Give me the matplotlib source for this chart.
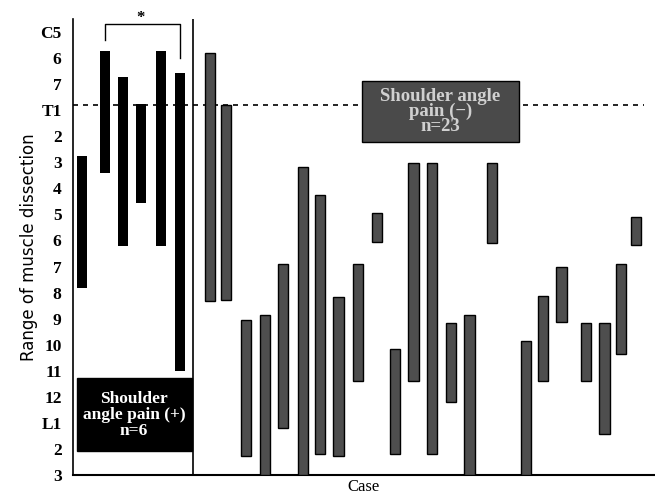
import matplotlib
matplotlib.use("Agg")
import matplotlib.pyplot as plt

# vertebral levels, top (C5) to bottom (L3)
levels = ["C5", "6", "7", "T1", "2", "3", "4", "5", "6", "7", "8", "9",
          "10", "11", "12", "L1", "2", "3"]

# shoulder angle pain (+) cases: position, top level, bottom level
pos_x = [0.48, 1.74, 2.70, 3.66, 4.73, 5.72]
pos_top = [4.77, 0.74, 1.74, 2.77, 0.74, 1.58]
pos_bot = [9.82, 5.41, 8.21, 6.56, 8.21, 13.0]

# shoulder angle pain (-) cases
neg_x = [7.33, 8.18, 9.25, 10.27, 11.23, 12.30, 13.20, 14.20, 15.24, 16.26,
         17.20, 18.20, 19.20, 20.20, 21.20, 22.40, 24.20, 25.10, 26.10,
         27.40, 28.40, 29.30, 30.10]
neg_top = [0.82, 2.81, 11.05, 10.86, 8.90, 5.18, 6.26, 10.17, 8.90, 6.95,
           12.16, 5.03, 5.03, 11.16, 10.86, 5.03, 11.85, 10.13, 9.02,
           11.16, 11.16, 8.90, 7.10]
neg_bot = [10.32, 10.28, 16.26, 17.0, 15.18, 17.0, 16.2, 16.26, 13.38, 8.06,
           16.2, 13.38, 16.2, 14.19, 17.0, 8.10, 17.0, 13.38, 11.12,
           13.38, 15.41, 12.35, 8.17]

fig = plt.figure(figsize=(6.55, 4.95), dpi=100)
ax = fig.add_axes([0.111, 0.04, 0.889, 0.922])

w = 0.55
ax.bar(pos_x, [b - t for t, b in zip(pos_top, pos_bot)], bottom=pos_top,
       width=w, color="black", zorder=3)
ax.bar(neg_x, [b - t for t, b in zip(neg_top, neg_bot)], bottom=neg_top,
       width=w, color="#4e4e4e", edgecolor="black", linewidth=1, zorder=3)

# T1 dashed reference line
ax.plot([0, 30.5], [2.82, 2.82], ls=(0, (3, 3)), color="black", lw=1.2, zorder=2)

# divider between groups
ax.axvline(6.42, color="black", lw=1.2)

# significance bracket
ax.plot([1.72, 1.72, 5.72, 5.72], [0.33, -0.32, -0.32, 0.99],
        color="black", lw=1, clip_on=False)
ax.text(3.6, -0.55, "*", ha="center", va="center", fontsize=12,
        fontweight="bold", family="Liberation Serif", clip_on=False)

# group label boxes
ax.add_patch(plt.Rectangle((0.21, 13.27), 6.15, 2.79, fc="black", ec="black", zorder=4))
ax.text(3.28, 14.68, "Shoulder\nangle pain (+)\nn=6", ha="center", va="center",
        color="white", fontsize=12.5, fontweight="bold", family="Liberation Serif",
        linespacing=1.0, zorder=5)
ax.add_patch(plt.Rectangle((15.45, 1.89), 8.4, 2.34, fc="#4a4a4a", ec="black",
                           lw=1, zorder=4))
ax.text(19.65, 3.06, "Shoulder angle\npain (\u2212)\nn=23", ha="center", va="center",
        color="#d0d0d0", fontsize=13.5, fontweight="bold", family="Liberation Serif",
        linespacing=0.85, zorder=5)

ax.set_xlim(0, 31.1)
ax.set_ylim(17.0, -0.5)
ax.set_yticks(range(len(levels)))
ax.set_yticklabels(levels, fontsize=12.5, fontweight="bold", family="Liberation Serif")
ax.tick_params(axis="y", length=0, pad=8)
ax.set_xticks([])
ax.spines["top"].set_visible(False)
ax.spines["right"].set_visible(False)
ax.spines["left"].set_linewidth(1.2)
ax.spines["bottom"].set_linewidth(1.5)

ax.set_ylabel("Range of muscle dissection", fontsize=12, labelpad=2)
ax.set_xlabel("Case", fontsize=12, family="Liberation Serif", labelpad=3)

plt.savefig("out.png", dpi=100)
plt.close()
